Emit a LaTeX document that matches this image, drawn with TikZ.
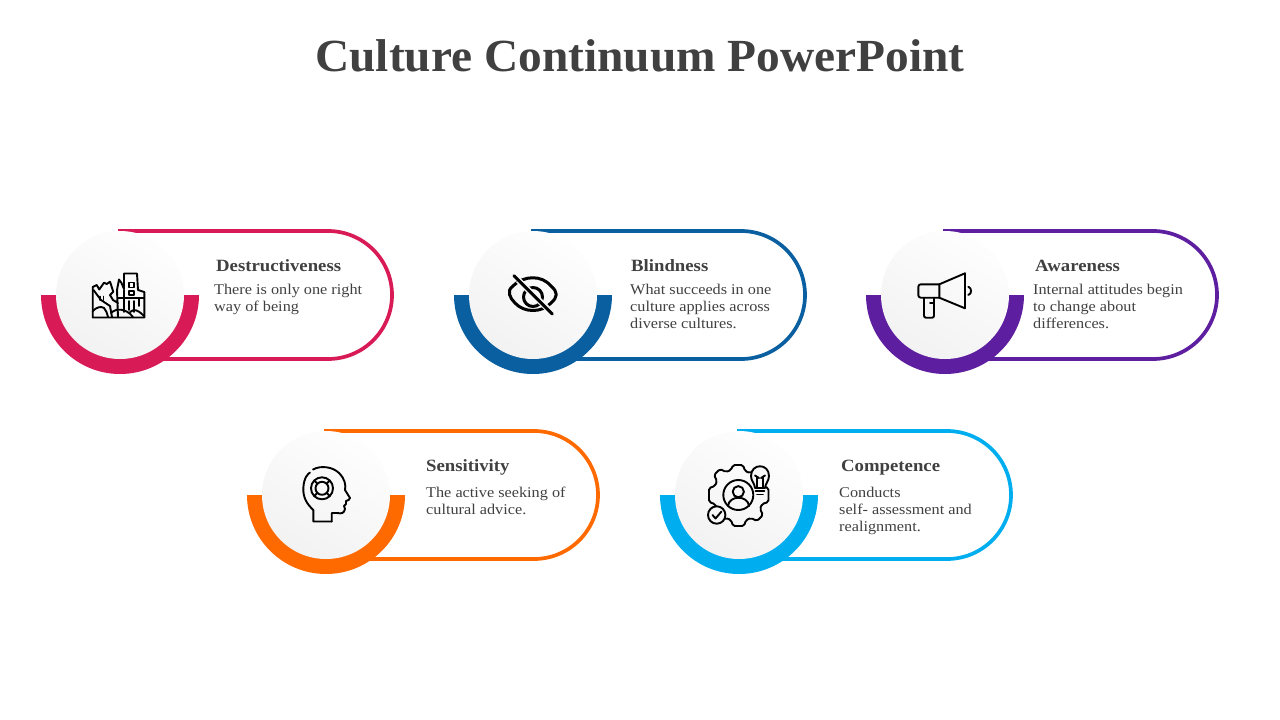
\documentclass[tikz,border=0pt]{standalone}
\usepackage{fontspec}
\setmainfont[FakeStretch=1.09]{Liberation Serif}
\newfontfamily\titlefont[FakeStretch=1.03]{Liberation Serif}
\usepackage{xcolor}
\definecolor{Crimson}{RGB}{216, 27, 86}
\definecolor{Denim}{RGB}{10, 95, 160}
\definecolor{Grape}{RGB}{94, 30, 160}
\definecolor{Tangerine}{RGB}{255, 106, 0}
\definecolor{Sky}{RGB}{0, 174, 239}
\definecolor{Ink}{RGB}{64, 64, 64}
\tikzset{
	cardtitle/.style={anchor=base west, inner sep=0pt, text=Ink, font=\fontsize{17.2}{20}\selectfont\bfseries},
	cardtext/.style={anchor=north west, inner sep=0pt, text=Ink, align=left, font=\fontsize{14.9}{17}\selectfont},
	iconline/.style={draw=black, line width=1.9pt, line join=round, line cap=round},
	iconthick/.style={draw=black, line width=3pt, line join=round, line cap=round},
}
% Pastilla, semicirculo y disco de cada tarjeta
\newcommand{\pillcard}[3]{
	\draw[#1, line width=3.7pt] (#2-2,#3-64) -- (#2+208,#3-64) arc[start angle=-90, end angle=90, radius=64] -- (#2+30,#3+64);
	\fill[#1] (#2-79,#3) arc[start angle=180, end angle=0, radius=79] -- cycle;
	\shade[top color=white!99.5!black, bottom color=white!95!black, shading angle=-30] (#2,#3) circle (64);
}
\begin{document}
\begin{tikzpicture}[x=1pt, y=-1pt]
	\useasboundingbox (0,0) rectangle (1280,720);
	\node[anchor=base, inner sep=0pt, text=Ink, font=\titlefont\fontsize{46}{50}\selectfont\bfseries] (title) at (640,71) {Culture Continuum PowerPoint};

	\pillcard{Crimson}{120}{295}
	\pillcard{Denim}{533}{295}
	\pillcard{Grape}{945}{295}
	\pillcard{Tangerine}{326}{495}
	\pillcard{Sky}{739}{495}

	\node[cardtitle] (destructiveness) at (216,271) {Destructiveness};
	\node[cardtext] (destructivenesstext) at (214,284) {There is only one right\\way of being};
	\node[cardtitle] (blindness) at (631,271) {Blindness};
	\node[cardtext] (blindnesstext) at (630,284) {What succeeds in one\\culture applies across\\diverse cultures.};
	\node[cardtitle] (awareness) at (1035,271) {Awareness};
	\node[cardtext] (awarenesstext) at (1033,284) {Internal attitudes begin\\to change about\\differences.};
	\node[cardtitle] (sensitivity) at (426,471) {Sensitivity};
	\node[cardtext] (sensitivitytext) at (426,487) {The active seeking of\\cultural advice.};
	\node[cardtitle] (competence) at (841,471) {Competence};
	\node[cardtext] (competencetext) at (839,487) {Conducts\\self- assessment and\\realignment.};

	% Ruinas
	\draw[iconline] (118,303) -- (113,300) -- (110,295) -- (113.3,291.7) -- (110,281.7) -- (106.7,284) -- (104,282.7) -- (99.3,289.5) -- (96.7,285) -- (92.7,287) -- (92.7,317.5) -- (144.3,317.5) -- (144.3,292) -- (138,290) -- (137,273.5) -- (124,273.5) -- (124,289) -- (121.5,283) -- (119,279.5) -- (117,290) -- (118,317);
	\draw[iconline] (118,298) -- (144,298);
	\draw[iconline] (129,282.5) rectangle (134,287.5);
	\draw[iconline] (129,291) rectangle (134,295);
	\draw[iconline] (124,290) -- (124,312) (129,301) -- (129,310) (134,301) -- (134,312) (139,298) -- (139,306);
	\draw[iconline] (93.5,290) -- (101,300) -- (110,306) -- (112,317);
	\draw[iconline] (100,296.5) -- (100,300) (103.5,296.5) -- (103.5,300);
	\draw[iconline] (92.7,311) .. controls (97,307) and (101,306) .. (104,308) .. controls (106,310) and (107,313) .. (108,317);
	\draw[iconline] (111,313) .. controls (116,308) and (126,308) .. (133,317);
	\draw[iconline] (130,312) .. controls (134,309) and (137,309) .. (144,316);

	% Ojo tachado
	\draw[iconthick] (513,286) .. controls (506,291) and (510,298) .. (515,303) .. controls (524,313) and (542,313) .. (551,303) .. controls (558,297) and (558,292) .. (551,286) .. controls (542,275) and (524,275) .. (513,286);
	\draw[iconthick] (533,297) circle (9.5);
	\draw[white!97!black, line width=6pt] (518,280) -- (549,310);
	\draw[iconthick] (514,275.7) -- (552.3,314);

	% Megafono
	\draw[iconline, rounded corners=2.5pt] (939.3,284.3) -- (918.3,284.3) -- (918.3,297.7) -- (939.3,297.7);
	\draw[iconline] (939.3,284.3) -- (965,273.3) -- (965,308.3) -- (939.3,297.7) -- cycle;
	\draw[iconline, rounded corners=2pt] (924,297.7) -- (924,317.7) -- (934,317.7) -- (934,297.7);
	\draw[iconline] (934,303) -- (930,303);
	\draw[iconline] (968.3,286.7) .. controls (972,288) and (972,294) .. (968.3,295);

	% Cabeza con diana
	\draw[iconline] (331.7,521.5) -- (313.3,521.5) -- (313.3,510) .. controls (307,504) and (303,498) .. (303.3,488) .. controls (304,477) and (308,474) .. (310,472.5);
	\draw[iconline] (313,469.5) .. controls (321,465) and (333,467) .. (339,473) .. controls (345,479) and (346,485) .. (345,490) -- (350,498) .. controls (350,500) and (348,500) .. (346,501) -- (346,504) -- (344,506) -- (345,509) .. controls (344,513) and (342,514) .. (337,513) -- (331.7,513) -- (331.7,521.5);
	\draw[iconline] (322,488.3) circle (11);
	\draw[iconline] (322,488.3) circle (6.5);
	\draw[iconline] (317.4,483.7) -- (314.2,480.5) (326.6,483.7) -- (329.8,480.5) (317.4,492.9) -- (314.2,496.1) (326.6,492.9) -- (329.8,496.1);

	% Engrane con persona, foco y palomita
	\draw[iconline, rounded corners=1.8pt] (738.5,465) -- (743,465) -- (745,471) -- (750,473) -- (756,470) -- (762,476) -- (760,481) -- (762,486) -- (768.5,488) -- (768.5,502) -- (762,504) -- (760,509) -- (763,515) -- (757,521) -- (751,518) -- (746,520) -- (744,526) -- (733,526) -- (731,520) -- (726,518) -- (720,521) -- (714,515) -- (717,509) -- (715,504) -- (709,502) -- (709,488) -- (715,486) -- (717,481) -- (714,475) -- (720,469) -- (726,472) -- (731,470) -- (733,465) -- cycle;
	\draw[iconline, fill=white!97!black] (716.7,515) circle (8.7);
	\draw[iconline] (712.5,515) -- (715.5,518.5) -- (721.5,511.5);
	\draw[iconline] (738.3,495) circle (15);
	\draw[iconline] (738.3,491.7) circle (5.6);
	\draw[iconline] (728,506) .. controls (729,495) and (748,495) .. (749,506);
	\draw[iconline, fill=white!97!black] (755,488) .. controls (755,484) and (751,481) .. (751,476) .. controls (751,463) and (769,463) .. (769,476) .. controls (769,481) and (765,484) .. (765,488) -- cycle;
	\draw[iconline] (757,488) -- (757,477) (763,488) -- (763,477) (755,475.5) -- (759,478) (761,478) -- (765,475.5);
	\draw[iconline] (755.5,491) -- (764.5,491) (757,494.5) -- (763,494.5);
\end{tikzpicture}
\end{document}
